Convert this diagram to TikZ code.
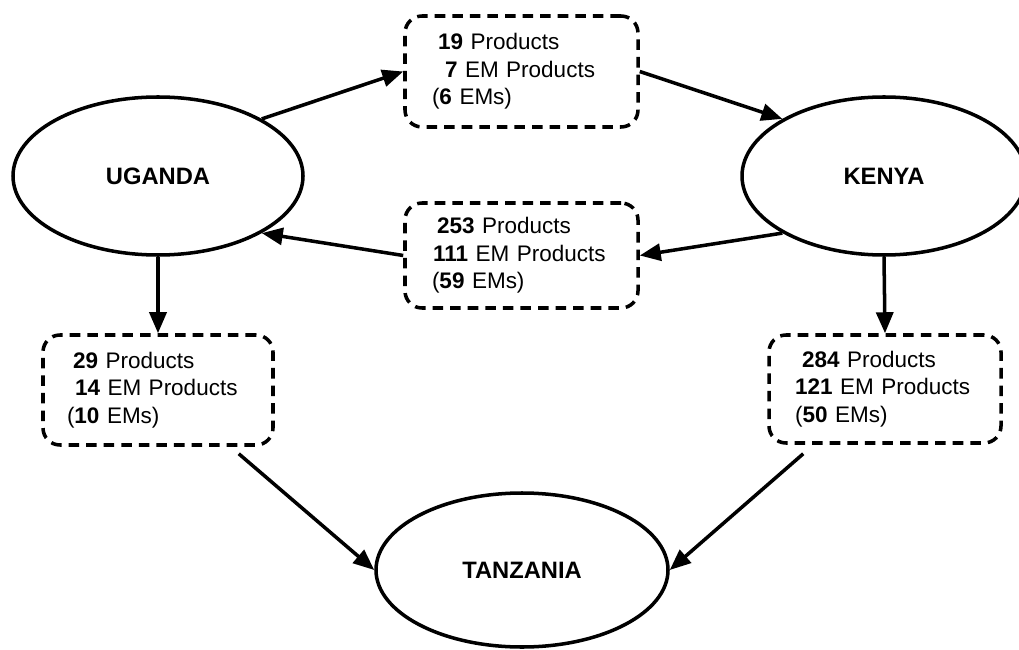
\documentclass[tikz,border=0pt]{standalone}
\usepackage{fontspec}
\setmainfont{Liberation Sans}
\usetikzlibrary{arrows.meta,positioning,shapes.geometric}

\begin{document}
\begin{tikzpicture}[
  country/.style={ellipse, draw, line width=2pt, font=\fontsize{13.5}{16}\selectfont\bfseries, inner sep=0pt},
  trade/.style={draw, line width=2pt, dash pattern=on 6pt off 4pt, rounded corners=0.34cm,
    align=left, font=\fontsize{12.8}{15.6}\selectfont, inner ysep=0pt},
  flow/.style={-{Triangle[length=0.42cm,width=0.34cm]}, line width=2pt}
]
\useasboundingbox (0,0) rectangle (20.38,12.98);
\node[country, minimum width=5.8cm, minimum height=3.16cm] (uganda) at (3.16,9.46) {UGANDA};
\node[country, minimum width=5.68cm, minimum height=3.16cm] (kenya) at (17.68,9.46) {KENYA};
\node[country, minimum width=5.84cm, minimum height=3.08cm] (tanzania) at (10.44,1.58) {TANZANIA};
\node[trade, inner xsep=0.54cm, text width=3.58cm, minimum height=2.22cm] (ug2ke) at (10.43,11.55)
  {\hspace*{0.12cm}\textbf{19} Products\\\hspace*{0.26cm}\textbf{7} EM Products\\(\textbf{6} EMs)};
\node[trade, inner xsep=0.54cm, text width=3.58cm, minimum height=2.1cm] (ke2ug) at (10.43,7.87)
  {\hspace*{0.1cm}\textbf{253} Products\\\hspace*{0.02cm}\textbf{111} EM Products\\(\textbf{59} EMs)};
\node[trade, inner xsep=0.48cm, text width=3.64cm, minimum height=2.2cm] (ug2tz) at (3.16,5.18)
  {\hspace*{0.12cm}\textbf{29} Products\\\hspace*{0.16cm}\textbf{14} EM Products\\(\textbf{10} EMs)};
\node[trade, inner xsep=0.52cm, text width=3.6cm, minimum height=2.16cm] (ke2tz) at (17.7,5.2)
  {\hspace*{0.14cm}\textbf{284} Products\\\textbf{121} EM Products\\(\textbf{50} EMs)};
\draw[flow] (uganda.north east) -- (ug2ke.west);
\draw[flow] (ug2ke.east) -- (kenya.north west);
\draw[flow] (kenya.south west) -- (ke2ug.east);
\draw[flow] (ke2ug.west) -- (uganda.south east);
\draw[flow] (uganda.south) -- (ug2tz.north);
\draw[flow] (kenya.south) -- (ke2tz.north);
\draw[flow] ([xshift=-0.72cm,yshift=-0.14cm]ug2tz.south east) -- (tanzania.west);
\draw[flow] ([xshift=0.72cm,yshift=-0.18cm]ke2tz.south west) -- (tanzania.east);
\end{tikzpicture}
\end{document}
